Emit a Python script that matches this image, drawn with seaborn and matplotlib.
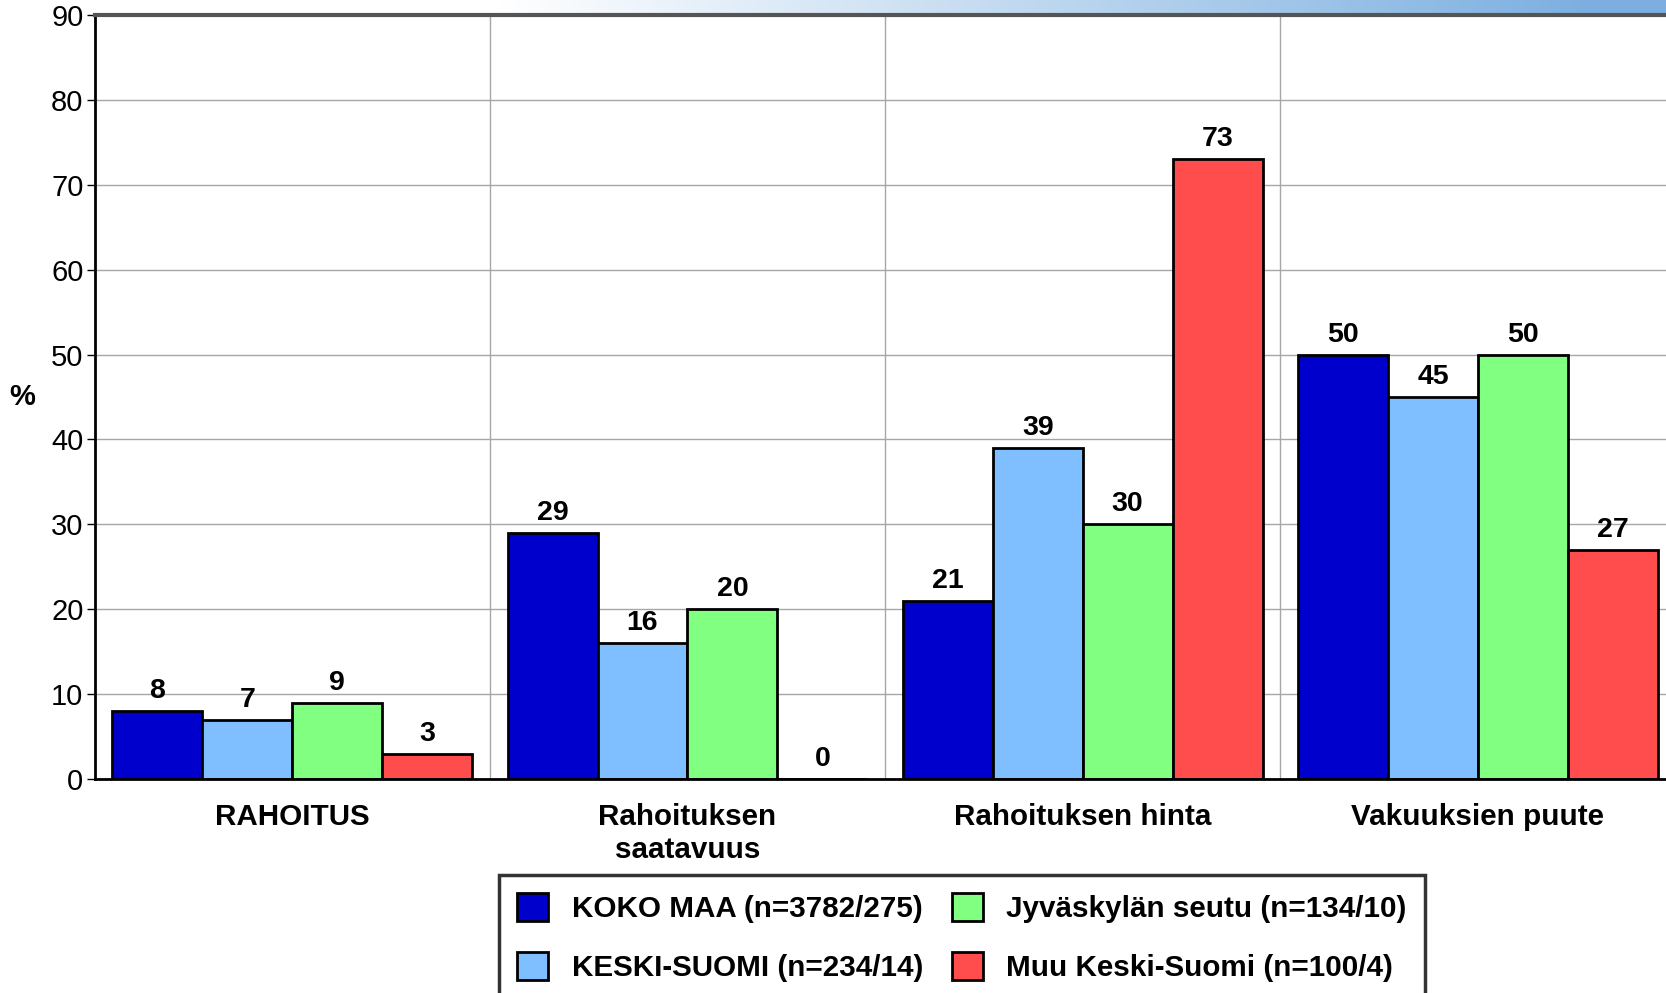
import numpy as np
import pandas as pd
import matplotlib
matplotlib.use("Agg")
import matplotlib.pyplot as plt
import seaborn as sns

# Tiedot
kategoriat = ['RAHOITUS', 'Rahoituksen\nsaatavuus', 'Rahoituksen hinta', 'Vakuuksien puute']
ryhmat = ['KOKO MAA (n=3782/275)', 'KESKI-SUOMI (n=234/14)',
          'Jyväskylän seutu (n=134/10)', 'Muu Keski-Suomi (n=100/4)']
koko_maa = [8, 29, 21, 50]
keski_suomi = [7, 16, 39, 45]
jyvaskyla = [9, 20, 30, 50]
muu_ks = [3, 0, 73, 27]
y_ticks = [0, 10, 20, 30, 40, 50, 60, 70, 80, 90]

varit = ['#0000CC', '#80BFFF', '#80FF80', '#FF4C4C']

sns.set_style('white')
plt.rcParams['font.family'] = ['Liberation Sans', 'DejaVu Sans']
plt.rcParams['text.color'] = 'black'
plt.rcParams['xtick.color'] = 'black'
plt.rcParams['ytick.color'] = 'black'
plt.rcParams['axes.labelcolor'] = 'black'

dados = pd.DataFrame({
    'kategoria': np.repeat(kategoriat, 4),
    'ryhma': ryhmat * 4,
    'arvo': [v for k in range(4) for v in (koko_maa[k], keski_suomi[k], jyvaskyla[k], muu_ks[k])],
})

fig = plt.figure(figsize=(16.66, 9.93), dpi=100)

# Liukuväriraita yläreunassa
ax_bg = fig.add_axes([0, 1 - 14 / 993, 1, 14 / 993])
grad = np.linspace(0, 1, 512)
grad = np.clip((grad - 0.3) / 0.65, 0, 1)
vari_a = np.array([1.0, 1.0, 1.0])
vari_b = np.array([0.49, 0.69, 0.88])
img = vari_a[None, :] + (vari_b - vari_a)[None, :] * grad[:, None]
ax_bg.imshow(img[None, :, :], aspect='auto', extent=[0, 1, 0, 1])
ax_bg.axis('off')

ax = fig.add_axes([89 / 1568, 1 - 779 / 993, 1488 / 1568, (779 - 15) / 993])
sns.barplot(data=dados, x='kategoria', y='arvo', hue='ryhma', order=kategoriat,
            hue_order=ryhmat, palette=varit, width=0.91, edgecolor='black',
            linewidth=2, saturation=1, ax=ax, legend=False)

for cont in ax.containers:
    ax.bar_label(cont, fmt='%d', padding=5, fontsize=20.5, fontweight='bold')

ax.set_ylim(0, 90)
ax.set_xlim(-0.5, 3.5)
ax.set_yticks(y_ticks)
ax.set_xticks(range(4))
ax.set_xticklabels(kategoriat, fontsize=21.3, fontweight='bold', linespacing=1.25)
ax.set_xticks([0.5, 1.5, 2.5], minor=True)
ax.tick_params(axis='x', which='both', length=0, pad=17)
ax.tick_params(axis='y', labelsize=21, length=6, width=1, color='black', left=True, pad=2)
ax.set_axisbelow(True)
ax.grid(axis='y', color='#a6a6a6', linewidth=1)
ax.grid(axis='x', which='minor', color='#a6a6a6', linewidth=1)
ax.set_xlabel('')
ax.set_ylabel('%', rotation=0, fontsize=21, fontweight='bold', va='center')
ax.yaxis.set_label_coords(-0.046, 0.5)

for s in ['left', 'bottom']:
    ax.spines[s].set_color('black')
    ax.spines[s].set_linewidth(2)
ax.spines['top'].set_color('#555555')
ax.spines['top'].set_linewidth(3)
ax.spines['right'].set_visible(False)

kahvat = [plt.Rectangle((0, 0), 1, 1, facecolor=c, edgecolor='black', linewidth=2) for c in varit]
leg = fig.legend(kahvat, ryhmat, ncol=2, loc='upper left', borderaxespad=0,
                 bbox_to_anchor=(499 / 1666, 1 - 875 / 993), frameon=True, fancybox=False,
                 prop={'size': 21.3, 'weight': 'bold'}, handlelength=1.05, handleheight=1.05,
                 handletextpad=0.8, columnspacing=0.95, labelspacing=0.98, borderpad=0.62)
leg.get_frame().set_edgecolor('black')
leg.get_frame().set_linewidth(2.5)

plt.savefig('out.png', dpi=100)
